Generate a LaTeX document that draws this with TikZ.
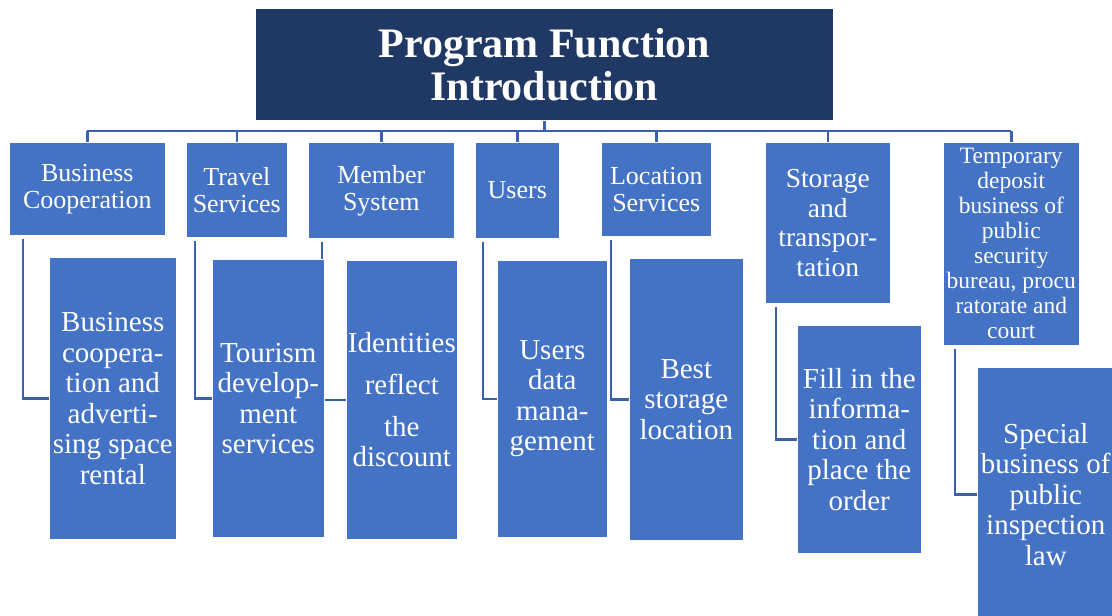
\documentclass[tikz,border=0pt]{standalone}
\usepackage{fontspec}
\setmainfont{Liberation Serif}
\usetikzlibrary{calc}
\pgfdeclarelayer{background}
\pgfsetlayers{background,main}
\definecolor{titlenavy}{RGB}{32,56,100}
\definecolor{boxblue}{RGB}{68,114,196}
\definecolor{linkblue}{RGB}{58,98,172}
\tikzset{
  titlebox/.style={rectangle, fill=titlenavy, draw=white, line width=0.6pt, text=white, inner sep=0pt, align=center, anchor=north west,
    font=\fontsize{42}{43}\selectfont\bfseries},
  topbox/.style={rectangle, fill=boxblue, draw=white, line width=0.6pt, text=white, inner sep=0pt, align=center, anchor=north west,
    font=\fontsize{26}{27}\selectfont},
  childbox/.style={rectangle, fill=boxblue, draw=white, line width=0.6pt, text=white, inner sep=0pt, align=center, anchor=north west,
    font=\fontsize{29}{30.5}\selectfont},
  conn/.style={draw=linkblue, line width=2.4pt}
}
\begin{document}
\begin{tikzpicture}[x=1pt,y=-1pt]
\useasboundingbox (0,0) rectangle (1112,616);
% title
\node[titlebox, minimum width=578pt, minimum height=112pt] (title) at (255,8) {Program Function\\Introduction};
% top boxes
\node[topbox, minimum width=156pt, minimum height=93pt] (c1) at (9,142) {Business\\Cooperation};
\node[topbox, minimum width=101pt, minimum height=95pt] (c2) at (186,142) {Travel\\Services};
\node[topbox, minimum width=146pt, minimum height=96pt] (c3) at (308,142) {Member\\System};
\node[topbox, minimum width=84pt, minimum height=96pt] (c4) at (475,142) {Users};
\node[topbox, minimum width=110pt, minimum height=94pt] (c5) at (601,142) {Location\\Services};
\node[topbox, minimum width=125pt, minimum height=161pt, font=\fontsize{27.5}{29.5}\selectfont] (c6) at (765,142) {Storage\\and\\transpor-\\tation};
\node[topbox, minimum width=136pt, minimum height=203pt, font=\fontsize{23.5}{25}\selectfont] (c7) at (943,142) {Temporary\\deposit\\business of\\public\\security\\bureau, procu\\ratorate and\\court};
% child boxes
\node[childbox, minimum width=127pt, minimum height=282pt] (s1) at (49,257) {Business\\coopera-\\tion and\\adverti-\\sing space\\rental};
\node[childbox, minimum width=112pt, minimum height=278pt] (s2) at (212,259) {Tourism\\develop-\\ment\\services};
\node[childbox, minimum width=111pt, minimum height=279pt] (s3) at (346,260) {Identities\\[11.5pt]reflect\\[11.5pt]the\\discount};
\node[childbox, minimum width=110pt, minimum height=277pt] (s4) at (497,260) {Users\\data\\mana-\\gement};
\node[childbox, minimum width=114pt, minimum height=282pt] (s5) at (629,258) {Best\\storage\\location};
\node[childbox, minimum width=124pt, minimum height=228pt] (s6) at (797,325) {Fill in the\\informa-\\tion and\\place the\\order};
\node[childbox, minimum width=137pt, minimum height=254pt] (s7) at (977,367) {Special\\business of\\public\\inspection\\law};
\begin{pgfonlayer}{background}
% bus
\coordinate (bus) at ($(title.south)+(0,10.5)$);
\draw[conn] (title.south) -- (bus);
\draw[conn] (c1.north |- bus) -- (c7.north |- bus);
\foreach \i in {1,...,7}{\draw[conn] (c\i.north) -- (c\i.north |- bus);}
% elbows
\draw[conn] ([xshift=14pt,yshift=-3pt]c1.south west) |- (s1.west);
\draw[conn] ([xshift=9pt,yshift=-3pt]c2.south west) |- (s2.west);
\draw[conn] ([xshift=14pt,yshift=-3pt]c3.south west) |- (s3.west);
\draw[conn] ([xshift=8pt,yshift=-3pt]c4.south west) |- (s4.west);
\draw[conn] ([xshift=10pt,yshift=-3pt]c5.south west) |- (s5.west);
\draw[conn] ([xshift=11pt,yshift=-3pt]c6.south west) |- (s6.west);
\draw[conn] ([xshift=12pt,yshift=-3pt]c7.south west) |- (s7.west);
\end{pgfonlayer}
\end{tikzpicture}
\end{document}
